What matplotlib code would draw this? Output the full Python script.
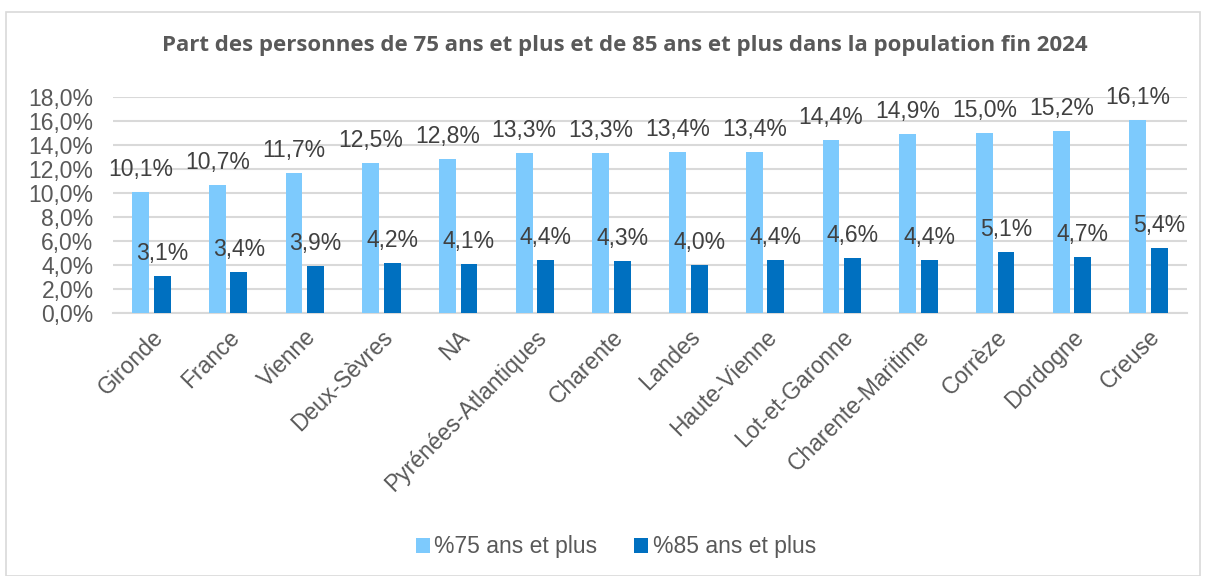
import matplotlib
matplotlib.use("Agg")
import matplotlib.pyplot as plt
from matplotlib.patches import Rectangle
import numpy as np

categories = ["Gironde", "France", "Vienne", "Deux-Sèvres", "NA", "Pyrénées-Atlantiques",
              "Charente", "Landes", "Haute-Vienne", "Lot-et-Garonne", "Charente-Maritime",
              "Corrèze", "Dordogne", "Creuse"]
pct75 = [10.1, 10.7, 11.7, 12.5, 12.8, 13.3, 13.3, 13.4, 13.4, 14.4, 14.9, 15.0, 15.2, 16.1]
pct85 = [3.1, 3.4, 3.9, 4.2, 4.1, 4.4, 4.3, 4.0, 4.4, 4.6, 4.4, 5.1, 4.7, 5.4]
series_names = ["%75 ans et plus", "%85 ans et plus"]
yticks = [0, 2, 4, 6, 8, 10, 12, 14, 16, 18]

c_light = "#7DCAFD"
c_dark = "#0070C0"
txt = "#595959"
grid = "#D9D9D9"

plt.rcParams['font.family'] = ['Liberation Sans', 'DejaVu Sans']

fig = plt.figure(figsize=(12.06, 5.76), dpi=100)
fig.patches.append(Rectangle((6/1206, 0), 1194/1206, 1 - 12/576, transform=fig.transFigure,
                             fill=False, edgecolor="#D9D9D9", linewidth=1.2))
ax = fig.add_axes([113/1206, 1 - 313/576, (1187-113)/1206, 216/576])

x = np.arange(len(categories))
w = 0.22
off = 0.14
b1 = ax.bar(x - off, pct75, w, color=c_light, label=series_names[0], zorder=3)
b2 = ax.bar(x + off, pct85, w, color=c_dark, label=series_names[1], zorder=3)

def fmt(v):
    return f"{v:.1f}".replace(".", ",") + "%"

for xs, vals in ((x - off, pct75), (x + off, pct85)):
    for xi, v in zip(xs, vals):
        ax.annotate(fmt(v), (xi, v), xytext=(0, 11.5), textcoords="offset points",
                    ha="center", va="baseline", fontsize=16.5, color="#404040", zorder=4)

ax.set_xlim(-0.5, len(categories) - 0.5)
ax.set_ylim(0, 18)
ax.set_yticks(yticks)
ax.set_yticklabels([fmt(t) for t in yticks], fontsize=16.5, color=txt)
ax.yaxis.grid(True, color=grid, linewidth=1.5, zorder=0)
ax.set_xticks(x)
ax.set_xticklabels(categories, rotation=45, ha="right", rotation_mode="anchor",
                   fontsize=16.5, color=txt)
ax.tick_params(axis="y", length=0, pad=14)
ax.tick_params(axis="x", length=0, pad=9)
for s in ["top", "right", "left"]:
    ax.spines[s].set_visible(False)
ax.spines["bottom"].set_color(grid)
ax.spines["bottom"].set_linewidth(1.5)

fig.text(625/1206, 1 - 45/576, "Part des personnes de 75 ans et plus et de 85 ans et plus dans la population fin 2024",
         ha="center", va="center", fontsize=16, fontweight="bold", color=txt,
         family=["Open Sans", "DejaVu Sans"])

fig.legend(handles=[b1, b2], loc="center", bbox_to_anchor=(616/1206, 1 - 547/576), ncol=2,
           frameon=False, fontsize=16.5, labelcolor=txt, handlelength=0.6, handleheight=0.6,
           handletextpad=0.2, columnspacing=1.6)

fig.savefig("out.png", dpi=100)
